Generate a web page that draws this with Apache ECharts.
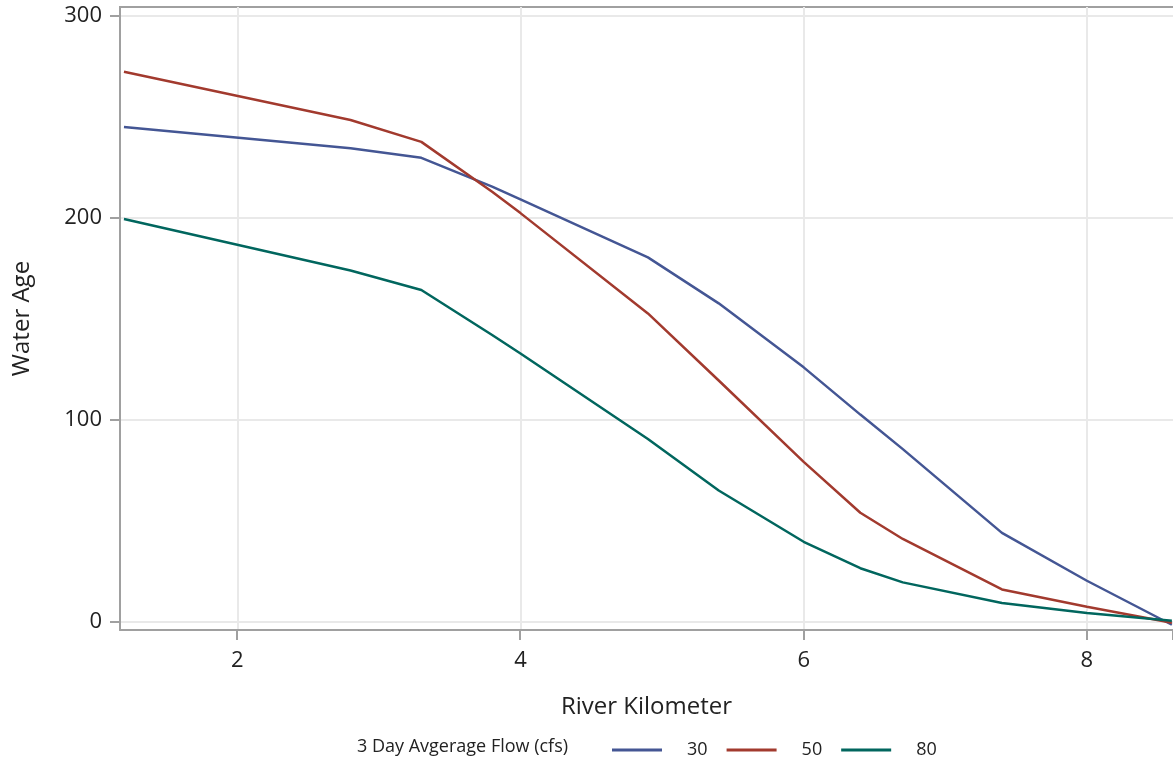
<!DOCTYPE html>
<html>
<head>
<meta charset="utf-8">
<script src="https://cdn.jsdelivr.net/npm/echarts@6/dist/echarts.min.js"></script>
<style>html,body{margin:0;padding:0;background:#fff}#c{width:1173px;height:761px}</style>
</head>
<body>
<div id="c"></div>
<script>
const riverKm = [1.2, 2.8, 3.3, 3.8, 4.0, 4.9, 5.4, 6.0, 6.4, 6.7, 7.4, 8.0, 8.6];
const flow30 = [245, 234.5, 229.8, 215.5, 209.2, 180.5, 157.7, 126, 102.6, 85.5, 44, 20.3, -1.5];
const flow50 = [272.4, 248.5, 237.7, 213, 202.4, 152.7, 119.5, 79.2, 54, 41, 16, 7.4, -0.5];
const flow80 = [199.5, 174, 164.3, 142, 132.9, 90.5, 65, 39.6, 26.5, 19.5, 9.3, 4.3, 0.5];
const xTicks = [2, 4, 6, 8];
const yTicks = [0, 100, 200, 300];
const seriesNames = ['30', '50', '80'];
const legendTitle = '3 Day Avgerage Flow (cfs)';

const FONT = '"Open Sans", "Noto Sans", sans-serif';
const TXT = '#222';
const AX = '#a0a0a0';
const GRIDC = '#e9e9e9';
const COLORS = ['#445694', '#A23A2E', '#01665E'];

function pairs(vals) { return riverKm.map((x, i) => [x, vals[i]]); }

const chart = echarts.init(document.getElementById('c'), null, {renderer: 'canvas'});
chart.setOption({
  animation: false,
  backgroundColor: '#fff',
  grid: [
    {left: 120, right: 0, top: 7, bottom: 131, show: false},
    {left: 237, right: 0, top: 7, bottom: 131, show: false}
  ],
  xAxis: [{
    type: 'value', gridIndex: 0, min: 1.172, max: 8.608,
    name: 'River Kilometer', nameLocation: 'middle', nameGap: 65,
    nameTextStyle: {fontFamily: FONT, fontSize: 24, color: TXT},
    axisLine: {show: true, onZero: false, lineStyle: {color: AX, width: 2}},
    axisTick: {show: false, customValues: xTicks},
    axisLabel: {fontFamily: FONT, fontSize: 22, color: TXT, margin: 20, customValues: xTicks},
    splitLine: {show: true, lineStyle: {color: GRIDC, width: 2}}
  }, {
    type: 'value', gridIndex: 1, min: 2, max: 8.61, interval: 2,
    axisLine: {show: false},
    axisTick: {show: true, inside: false, length: 10, lineStyle: {color: AX, width: 2}},
    axisLabel: {show: false}, splitLine: {show: false}
  }],
  yAxis: [{
    type: 'value', gridIndex: 0, min: -4.1, max: 304.5,
    name: 'Water Age', nameLocation: 'middle', nameGap: 86,
    nameTextStyle: {fontFamily: FONT, fontSize: 24, color: TXT},
    axisLine: {show: true, onZero: false, lineStyle: {color: AX, width: 2}},
    axisTick: {show: true, length: 10, lineStyle: {color: AX, width: 2}, customValues: yTicks},
    axisLabel: {fontFamily: FONT, fontSize: 22, color: TXT, margin: 18, customValues: yTicks},
    splitLine: {show: true, lineStyle: {color: GRIDC, width: 2}}
  }, {
    type: 'value', gridIndex: 1, min: 0, max: 1, show: false
  }],
  legend: {
    left: 607, top: 736, itemWidth: 50, itemHeight: 3, itemGap: 19, icon: 'rect',
    textStyle: {fontFamily: FONT, fontSize: 18, color: TXT, padding: [0, 0, 0, 20]},
    data: seriesNames
  },
  graphic: [{
    type: 'text', left: 357, top: 738,
    style: {text: legendTitle, font: '18px ' + FONT, fill: TXT}
  }, {
    type: 'line', shape: {x1: 119, y1: 7, x2: 1173, y2: 7},
    style: {stroke: AX, lineWidth: 2}
  }],
  series: seriesNames.map((n, i) => ({
    name: n, type: 'line', symbol: 'none', xAxisIndex: 0, yAxisIndex: 0,
    data: pairs([flow30, flow50, flow80][i]),
    lineStyle: {color: COLORS[i], width: 2.5},
    itemStyle: {color: COLORS[i]}
  }))
});
</script>
</body>
</html>
